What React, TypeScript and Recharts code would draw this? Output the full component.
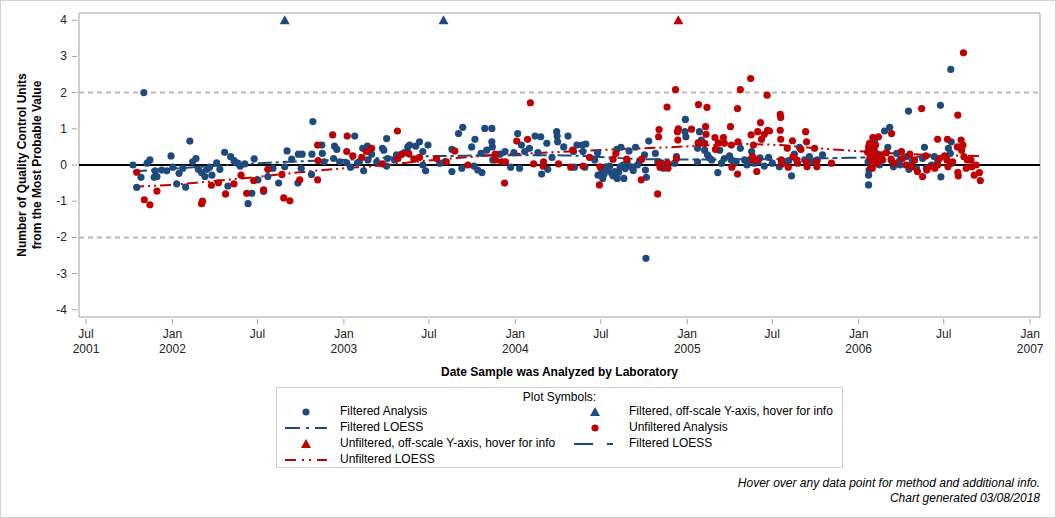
import React from "react";
import {
  ComposedChart,
  Line,
  ReferenceArea,
  ReferenceLine,
  Scatter,
  XAxis,
  YAxis,
} from "recharts";

const BLUE = "#1f4a7e";
const RED = "#c00000";
const FRAME = "#a0a0a0";
const FONT = "'Liberation Sans', Arial, Helvetica, sans-serif";

// x axis: dates (UTC), ticks every six months
const X_START = "2001-06-16";
const X_END = "2007-01-22";
const xTickDates = [
  "2001-07-01", "2002-01-01", "2002-07-01", "2003-01-01", "2003-07-01", "2004-01-01",
  "2004-07-01", "2005-01-01", "2005-07-01", "2006-01-01", "2006-07-01", "2007-01-01",
];
const MONTHS = ["Jan", "Feb", "Mar", "Apr", "May", "Jun", "Jul", "Aug", "Sep", "Oct", "Nov", "Dec"];

const yTicks = [-4, -3, -2, -1, 0, 1, 2, 3, 4];
const Y_MIN = -4.2;
const Y_MAX = 4.2;
const OFF_SCALE_Y = 4;

// Filtered analysis: [date, QC units from MPV]
const filteredAnalysis: [string, number][] = [
  ["2001-10-09", 0.0], ["2001-10-17", -0.62], ["2001-10-26", -0.34], ["2001-11-01", 2.0], ["2001-11-08", 0.05],
  ["2001-11-14", 0.14], ["2001-11-23", -0.34], ["2001-11-25", -0.16], ["2001-11-29", -0.32], ["2001-12-09", -0.14],
  ["2001-12-20", -0.16], ["2001-12-29", 0.25],
  ["2002-01-02", -0.06], ["2002-01-10", -0.52], ["2002-01-15", -0.23], ["2002-01-23", -0.09], ["2002-01-29", -0.61],
  ["2002-02-07", 0.66], ["2002-02-13", 0.09], ["2002-02-20", 0.18], ["2002-02-25", -0.12], ["2002-03-04", -0.21],
  ["2002-03-11", -0.32], ["2002-03-15", -0.12], ["2002-03-21", -0.06], ["2002-03-26", -0.28], ["2002-04-05", 0.06],
  ["2002-04-12", -0.12], ["2002-04-22", 0.35], ["2002-04-29", -0.58], ["2002-05-05", 0.23], ["2002-05-12", 0.12],
  ["2002-05-20", 0.05], ["2002-05-25", -0.03], ["2002-06-04", 0.03], ["2002-06-11", -1.07], ["2002-06-19", -0.78],
  ["2002-06-24", 0.17], ["2002-07-02", -0.41], ["2002-07-14", -0.73], ["2002-07-23", -0.32], ["2002-08-03", -0.09],
  ["2002-08-15", -0.5], ["2002-08-28", -0.05], ["2002-09-02", 0.39], ["2002-09-12", 0.16], ["2002-09-25", -0.5],
  ["2002-09-26", 0.3], ["2002-10-02", -0.09], ["2002-10-04", 0.3], ["2002-10-24", -0.26], ["2002-10-25", 0.3],
  ["2002-10-27", 1.2], ["2002-11-15", 0.55], ["2002-11-16", 0.32], ["2002-11-20", 0.09], ["2002-12-10", 0.18],
  ["2002-12-12", 0.52], ["2002-12-17", 0.43], ["2002-12-23", 0.09],
  ["2003-01-07", 0.06], ["2003-01-15", -0.06], ["2003-01-24", 0.8], ["2003-01-30", 0.06], ["2003-02-03", 0.09],
  ["2003-02-10", 0.46], ["2003-02-12", -0.16], ["2003-02-20", 0.52], ["2003-02-21", 0.14], ["2003-03-01", 0.3],
  ["2003-03-12", 0.09], ["2003-03-24", 0.46], ["2003-03-27", 0.41], ["2003-04-02", 0.73], ["2003-04-02", -0.03],
  ["2003-04-04", 0.18], ["2003-04-19", 0.14], ["2003-04-23", 0.28], ["2003-05-10", 0.34], ["2003-05-17", 0.5],
  ["2003-05-21", 0.55], ["2003-06-03", 0.52], ["2003-06-11", 0.64], ["2003-06-18", 0.37], ["2003-06-18", 0.0],
  ["2003-06-24", -0.16], ["2003-06-29", 0.55], ["2003-07-24", 0.05], ["2003-08-04", 0.09], ["2003-08-19", 0.43],
  ["2003-08-19", -0.18], ["2003-09-02", 0.87], ["2003-09-09", -0.09], ["2003-09-11", 1.04], ["2003-09-30", 0.5],
  ["2003-10-05", -0.03], ["2003-10-07", 0.71], ["2003-10-13", -0.14], ["2003-10-20", 0.32], ["2003-10-22", -0.21],
  ["2003-10-28", 1.01], ["2003-11-01", 0.41], ["2003-11-12", 1.01], ["2003-11-12", 0.64], ["2003-11-13", 0.5],
  ["2003-11-14", 0.14], ["2003-11-29", 0.3], ["2003-12-10", 0.37], ["2003-12-22", -0.06], ["2003-12-29", 0.34],
  ["2004-01-06", 0.87], ["2004-01-10", -0.09], ["2004-01-14", 0.55], ["2004-01-21", 0.37], ["2004-01-31", 0.46],
  ["2004-02-12", 0.8], ["2004-02-18", 0.34], ["2004-02-24", 0.78], ["2004-02-26", -0.25], ["2004-03-08", 0.6],
  ["2004-03-10", -0.12], ["2004-03-19", 0.21], ["2004-03-29", 0.92], ["2004-03-30", 0.8], ["2004-03-31", 0.64],
  ["2004-04-13", 0.5], ["2004-04-22", 0.8], ["2004-05-04", 0.37], ["2004-05-06", -0.06], ["2004-05-11", 0.55],
  ["2004-05-22", 0.55], ["2004-05-24", 0.37], ["2004-05-28", -0.06], ["2004-05-30", 0.58], ["2004-06-18", 0.14],
  ["2004-06-24", 0.34], ["2004-06-25", -0.28], ["2004-07-03", -0.14], ["2004-07-05", -0.37], ["2004-07-08", -0.25],
  ["2004-07-12", -0.05], ["2004-07-16", -0.14], ["2004-07-20", -0.03], ["2004-07-24", -0.23], ["2004-07-27", -0.3],
  ["2004-07-31", -0.18], ["2004-08-04", 0.43], ["2004-08-05", -0.37], ["2004-08-08", -0.2], ["2004-08-11", -0.05],
  ["2004-08-13", 0.49], ["2004-08-17", 0.0], ["2004-08-19", -0.37], ["2004-08-22", -0.1], ["2004-08-26", 0.09],
  ["2004-08-30", 0.39], ["2004-09-04", -0.05], ["2004-09-08", -0.15], ["2004-09-13", 0.49], ["2004-09-17", 0.0],
  ["2004-09-21", 0.09], ["2004-10-02", 0.28], ["2004-10-04", -0.14], ["2004-10-05", -2.58], ["2004-10-06", -0.34],
  ["2004-10-11", 0.66], ["2004-10-25", 0.32], ["2004-10-30", 0.09], ["2004-11-07", 0.06], ["2004-11-11", -0.09],
  ["2004-12-05", 0.05], ["2004-12-09", 0.23], ["2004-12-27", 0.92], ["2004-12-28", 1.26], ["2004-12-29", 0.78],
  ["2005-01-23", 0.46], ["2005-01-23", 0.09], ["2005-01-27", 0.92], ["2005-01-31", 0.69], ["2005-02-07", 0.41],
  ["2005-02-13", 0.28], ["2005-02-17", 0.2], ["2005-02-22", 0.14], ["2005-03-07", -0.21], ["2005-03-11", 0.41],
  ["2005-03-15", 0.05], ["2005-03-21", 0.18], ["2005-04-01", 0.25], ["2005-04-05", 0.14], ["2005-04-11", 0.05],
  ["2005-04-15", 0.1], ["2005-04-24", 0.46], ["2005-05-03", 0.14], ["2005-05-08", 0.0], ["2005-05-14", 0.14],
  ["2005-05-18", 0.37], ["2005-05-24", 0.05], ["2005-06-01", 0.1], ["2005-06-05", 0.2], ["2005-06-14", -0.03],
  ["2005-06-23", 0.21], ["2005-07-01", 0.05], ["2005-07-16", -0.05], ["2005-07-25", 0.1], ["2005-08-05", 0.12],
  ["2005-08-11", -0.3], ["2005-08-17", 0.3], ["2005-08-28", 0.49], ["2005-09-08", 0.14], ["2005-09-18", 0.23],
  ["2005-09-25", 0.1], ["2005-10-05", 0.14], ["2005-10-16", 0.28],
  ["2006-01-21", 0.09], ["2006-01-22", -0.55], ["2006-01-22", -0.28], ["2006-01-23", -0.14], ["2006-02-04", 0.69],
  ["2006-02-10", 0.3], ["2006-02-14", 0.0], ["2006-02-25", 0.94], ["2006-03-04", 0.49], ["2006-03-08", 1.04],
  ["2006-03-12", 0.12], ["2006-03-16", -0.05], ["2006-03-23", 0.32], ["2006-03-29", 0.12], ["2006-03-30", 0.0],
  ["2006-04-13", 0.23], ["2006-04-17", 1.49], ["2006-04-18", -0.12], ["2006-04-25", 0.1], ["2006-05-04", -0.09],
  ["2006-05-17", 0.18], ["2006-05-21", 0.49], ["2006-05-25", -0.09], ["2006-06-05", 0.0], ["2006-06-11", 0.23],
  ["2006-06-18", 0.08], ["2006-06-24", 1.65], ["2006-06-25", -0.33], ["2006-07-11", 0.46], ["2006-07-15", 0.32],
  ["2006-07-16", 2.64], ["2006-07-17", 0.64], ["2006-07-18", 0.05],
];

// Unfiltered analysis
const unfilteredAnalysis: [string, number][] = [
  ["2001-10-17", -0.2], ["2001-11-02", -0.96], ["2001-11-14", -1.1], ["2001-11-29", -0.72],
  ["2002-03-04", -1.07], ["2002-03-06", -1.0], ["2002-03-25", -0.56], ["2002-04-09", -0.49], ["2002-04-24", -0.8],
  ["2002-05-12", -0.52], ["2002-05-27", -0.28], ["2002-06-08", -0.78], ["2002-06-23", -0.43], ["2002-07-14", -0.69],
  ["2002-07-23", -0.12], ["2002-08-22", -0.26], ["2002-08-26", -0.91], ["2002-09-08", -0.99], ["2002-09-29", -0.41],
  ["2002-11-06", 0.55], ["2002-11-07", 0.12], ["2002-11-06", -0.41], ["2002-12-08", 0.83],
  ["2003-01-07", 0.37], ["2003-01-08", 0.8], ["2003-01-20", 0.25], ["2003-02-08", 0.21], ["2003-02-18", 0.37],
  ["2003-03-01", 0.46], ["2003-03-24", 0.03], ["2003-04-25", 0.94], ["2003-04-26", 0.18], ["2003-05-04", 0.3],
  ["2003-05-19", 0.32], ["2003-05-30", 0.16], ["2003-06-11", 0.21], ["2003-07-17", 0.18], ["2003-08-07", 0.09],
  ["2003-08-25", 0.39], ["2003-09-22", 0.0], ["2003-11-19", 0.3], ["2003-11-20", 0.14], ["2003-12-03", 0.09],
  ["2003-12-09", -0.5], ["2003-12-11", 0.09],
  ["2004-01-04", 0.66], ["2004-01-27", 0.71], ["2004-02-02", 1.72], ["2004-02-09", 0.03], ["2004-02-29", -0.03],
  ["2004-03-01", 0.09], ["2004-04-02", 0.03], ["2004-04-28", -0.06], ["2004-05-02", 0.41], ["2004-05-24", -0.03],
  ["2004-06-07", 0.21], ["2004-06-28", -0.55], ["2004-06-29", -0.05], ["2004-07-27", 0.16], ["2004-08-02", 0.32],
  ["2004-08-25", 0.16], ["2004-09-25", -0.41], ["2004-09-26", 0.16], ["2004-10-30", -0.8], ["2004-11-01", 0.78],
  ["2004-11-02", 0.98], ["2004-11-03", 0.05], ["2004-11-04", -0.06], ["2004-11-19", 1.6], ["2004-11-20", 0.05],
  ["2004-11-21", -0.09], ["2004-12-07", 2.08], ["2004-12-09", 0.18], ["2004-12-11", 0.92], ["2004-12-12", 0.69],
  ["2004-12-13", 1.0],
  ["2005-01-10", 0.99], ["2005-01-24", 0.61], ["2005-01-25", 1.67], ["2005-02-07", 0.6], ["2005-02-09", 1.06],
  ["2005-02-10", 0.85], ["2005-02-12", 1.59], ["2005-03-01", 0.76], ["2005-03-02", 0.43], ["2005-03-08", 0.61],
  ["2005-03-19", 0.76], ["2005-03-21", 0.6], ["2005-04-03", 1.06], ["2005-04-05", 0.55], ["2005-04-06", -0.06],
  ["2005-04-18", 1.56], ["2005-04-18", -0.25], ["2005-04-19", 0.64], ["2005-04-24", 2.08], ["2005-05-16", 2.39],
  ["2005-05-17", 0.83], ["2005-05-20", 0.23], ["2005-05-21", 0.14], ["2005-05-22", 0.55], ["2005-05-29", -0.18],
  ["2005-05-30", 0.14], ["2005-05-31", 0.92], ["2005-06-06", 1.17], ["2005-06-08", 0.71], ["2005-06-14", 0.85],
  ["2005-06-20", 1.93], ["2005-06-21", 0.96], ["2005-06-25", 0.94], ["2005-07-18", 1.4], ["2005-07-18", 0.96],
  ["2005-07-19", 1.31], ["2005-07-19", 0.71], ["2005-07-20", 0.14], ["2005-07-21", 0.03], ["2005-08-02", 0.46],
  ["2005-08-04", -0.06], ["2005-08-13", 0.67], ["2005-08-14", 0.23], ["2005-08-22", 0.14], ["2005-08-24", 0.05],
  ["2005-08-31", 0.43], ["2005-09-10", 0.92], ["2005-09-12", 0.64], ["2005-09-12", 0.09], ["2005-09-13", -0.05],
  ["2005-09-29", 0.46], ["2005-10-03", 0.09], ["2005-10-04", -0.05], ["2005-11-04", 0.05],
  ["2006-01-20", 0.35], ["2006-01-22", 0.5], ["2006-01-24", 0.6], ["2006-01-25", 0.2], ["2006-01-27", -0.05],
  ["2006-01-28", 0.46], ["2006-01-29", 0.14], ["2006-01-30", 0.28], ["2006-01-30", -0.09], ["2006-01-31", 0.76],
  ["2006-02-03", 0.41], ["2006-02-06", 0.55], ["2006-02-08", 0.05], ["2006-02-10", 0.23], ["2006-02-12", 0.78],
  ["2006-02-19", 0.28], ["2006-02-21", 0.14], ["2006-03-01", 0.34], ["2006-03-11", 0.16], ["2006-03-12", 0.87],
  ["2006-03-18", 0.05], ["2006-04-02", 0.37], ["2006-04-04", 0.18], ["2006-04-12", 0.0], ["2006-04-20", 0.3],
  ["2006-04-24", -0.05], ["2006-04-30", 0.14], ["2006-05-06", -0.18], ["2006-05-15", 1.56], ["2006-05-17", -0.32],
  ["2006-05-24", 0.25], ["2006-05-26", -0.14], ["2006-06-01", -0.05], ["2006-06-12", -0.09], ["2006-06-18", 0.0],
  ["2006-06-18", 0.71], ["2006-06-22", 0.18], ["2006-07-03", 0.25], ["2006-07-08", 0.14], ["2006-07-09", 0.71],
  ["2006-07-10", -0.05], ["2006-07-20", 0.09], ["2006-07-30", 0.5], ["2006-07-31", 1.38], ["2006-07-31", -0.2],
  ["2006-08-01", -0.3], ["2006-08-07", 0.69], ["2006-08-08", 0.41], ["2006-08-11", 0.55], ["2006-08-12", 3.1],
  ["2006-08-13", 0.23], ["2006-08-18", -0.09], ["2006-08-20", 0.14], ["2006-08-28", 0.14], ["2006-08-30", -0.05],
  ["2006-09-04", -0.28], ["2006-09-08", 0.0], ["2006-09-15", -0.21], ["2006-09-17", -0.43],
];

// off-scale results (plotted at the top of the axis)
const filteredOffScale = ["2002-08-28", "2003-08-01"];
const unfilteredOffScale = ["2004-12-13"];

// LOESS fits
const filteredLoessA: [string, number][] = [
  ["2001-10-09", -0.17], ["2001-12-15", -0.12], ["2002-03-01", -0.05], ["2002-05-03", 0.0], ["2002-07-06", 0.05],
  ["2002-09-29", 0.1], ["2003-01-13", 0.15], ["2003-04-30", 0.22], ["2003-08-14", 0.25], ["2003-11-29", 0.27],
  ["2004-03-15", 0.27], ["2004-06-07", 0.24],
];
const filteredLoessB: [string, number][] = [
  ["2004-06-07", 0.24], ["2004-08-11", 0.19], ["2004-10-13", 0.16], ["2005-01-27", 0.15], ["2005-05-14", 0.16],
  ["2005-08-28", 0.17], ["2005-12-13", 0.2], ["2006-03-30", 0.22], ["2006-07-18", 0.25],
];
const unfilteredLoess: [string, number][] = [
  ["2001-10-09", -0.6], ["2001-12-27", -0.55], ["2002-03-01", -0.48], ["2002-05-03", -0.4], ["2002-07-06", -0.32],
  ["2002-09-29", -0.2], ["2002-12-23", -0.1], ["2003-03-17", -0.02], ["2003-06-11", 0.1], ["2003-09-05", 0.2],
  ["2003-11-29", 0.28], ["2004-03-15", 0.35], ["2004-06-07", 0.4], ["2004-08-11", 0.44], ["2004-11-04", 0.48],
  ["2005-01-27", 0.53], ["2005-04-22", 0.58], ["2005-07-16", 0.55], ["2005-09-18", 0.48], ["2005-11-20", 0.42],
  ["2006-01-24", 0.36], ["2006-04-20", 0.3], ["2006-07-14", 0.27], ["2006-09-20", 0.25],
];

const DASH_FILTERED_A = "14 4 3 4";
const DASH_FILTERED_B = "15 4 5 4";
const DASH_UNFILTERED = "11 4 2 4 2 4";

const ts = (d: string) => Date.parse(d + "T00:00:00Z");
const toPoints = (rows: [string, number][]) => rows.map(([d, v]) => ({ t: ts(d), v }));
const offScalePoints = (dates: string[]) => dates.map((d) => ({ t: ts(d), v: OFF_SCALE_Y }));

const dot = (color: string) => (p: any) => <circle cx={p.cx} cy={p.cy} r={3.6} fill={color} />;
const tri = (color: string) => (p: any) => (
  <polygon points={`${p.cx},${p.cy - 5} ${p.cx - 5},${p.cy + 4} ${p.cx + 5},${p.cy + 4}`} fill={color} />
);

function XTick(props: any) {
  const { x, y, payload, index } = props;
  const d = new Date(payload.value);
  const showYear = index === 0 || d.getUTCMonth() === 0;
  return (
    <g>
      <line x1={x} x2={x} y1={y - 6} y2={y - 1} stroke={FRAME} />
      <text x={x} y={y} textAnchor="middle" fontSize={12} fontFamily={FONT} fill="#222">
        <tspan x={x} dy={13}>{MONTHS[d.getUTCMonth()]}</tspan>
        {showYear && <tspan x={x} dy={15}>{d.getUTCFullYear()}</tspan>}
      </text>
    </g>
  );
}

function YTick(props: any) {
  const { x, y, payload } = props;
  return (
    <g>
      <line x1={x + 5} x2={x + 10} y1={y} y2={y} stroke={FRAME} />
      <text x={x} y={y} dy={4} textAnchor="end" fontSize={12} fontFamily={FONT} fill="#222">
        {payload.value}
      </text>
    </g>
  );
}

function LegendMark({ kind, color, dash }: { kind: string; color: string; dash?: string }) {
  return (
    <svg width={46} height={12} style={{ position: "absolute", left: -23, top: -6 }}>
      {kind === "dot" && <circle cx={23} cy={6} r={3.6} fill={color} />}
      {kind === "tri" && <polygon points="23,1 18,10 28,10" fill={color} />}
      {kind === "line" && <line x1={2} x2={44} y1={6} y2={6} stroke={color} strokeWidth={2} strokeDasharray={dash} />}
    </svg>
  );
}

const legendItems = [
  { col: 0, row: 0, kind: "dot", color: BLUE, text: "Filtered Analysis" },
  { col: 0, row: 1, kind: "line", color: BLUE, dash: "15 6 3 6", text: "Filtered LOESS" },
  { col: 0, row: 2, kind: "tri", color: RED, text: "Unfiltered, off-scale Y-axis, hover for info" },
  { col: 0, row: 3, kind: "line", color: RED, dash: "11 6 2 5 2 6", text: "Unfiltered LOESS" },
  { col: 1, row: 0, kind: "tri", color: BLUE, text: "Filtered, off-scale Y-axis, hover for info" },
  { col: 1, row: 1, kind: "dot", color: RED, text: "Unfiltered Analysis" },
  { col: 1, row: 2, kind: "line", color: BLUE, dash: "19 14 6 40", text: "Filtered LOESS" },
];

export default function App() {
  const xDomain = [ts(X_START), ts(X_END)];
  return (
    <div style={{ position: "absolute", left: 0, top: 0, width: 1056, height: 518, background: "#fff", fontFamily: FONT, color: "#000" }}>
      <ComposedChart width={1056} height={518} margin={{ top: 13, right: 16, bottom: 161, left: 39 }}>
        <XAxis
          dataKey="t"
          type="number"
          scale="linear"
          domain={xDomain}
          allowDataOverflow
          ticks={xTickDates.map(ts)}
          interval={0}
          tick={<XTick />}
          tickLine={false}
          axisLine={false}
          tickSize={8}
          tickMargin={0}
          height={40}
          label={{
            content: (p: any) => (
              <text x={p.viewBox.x + p.viewBox.width / 2} y={p.viewBox.y + 59} textAnchor="middle" fontSize={12} fontWeight="bold" fontFamily={FONT}>
                Date Sample was Analyzed by Laboratory
              </text>
            ),
          }}
        />
        <YAxis
          dataKey="v"
          type="number"
          domain={[Y_MIN, Y_MAX]}
          allowDataOverflow
          ticks={yTicks}
          interval={0}
          tick={<YTick />}
          tickLine={false}
          axisLine={false}
          tickSize={8}
          tickMargin={4}
          width={40}
          label={{
            content: (p: any) => {
              const cy = p.viewBox.y + p.viewBox.height / 2;
              return (
                <text transform={`rotate(-90, 0, ${cy})`} x={0} y={cy} textAnchor="middle" fontSize={12} fontWeight="bold" fontFamily={FONT}>
                  <tspan x={0} y={cy + 26}>Number of Quality Control Units</tspan>
                  <tspan x={0} y={cy + 41}>from the Most Probable Value</tspan>
                </text>
              );
            },
          }}
        />
        <ReferenceLine y={2} stroke="#b8b8b8" strokeWidth={2} strokeDasharray="5 4" />
        <ReferenceLine y={-2} stroke="#b8b8b8" strokeWidth={2} strokeDasharray="5 4" />
        <ReferenceLine y={0} stroke="#000" strokeWidth={2} />
        <Scatter data={toPoints(filteredAnalysis)} dataKey="v" shape={dot(BLUE)} isAnimationActive={false} />
        <Scatter data={toPoints(unfilteredAnalysis)} dataKey="v" shape={dot(RED)} isAnimationActive={false} />
        <Line data={toPoints(filteredLoessA)} dataKey="v" type="monotone" stroke={BLUE} strokeWidth={2} strokeDasharray={DASH_FILTERED_A} dot={false} activeDot={false} isAnimationActive={false} />
        <Line data={toPoints(filteredLoessB)} dataKey="v" type="monotone" stroke={BLUE} strokeWidth={2} strokeDasharray={DASH_FILTERED_B} dot={false} activeDot={false} isAnimationActive={false} />
        <Line data={toPoints(unfilteredLoess)} dataKey="v" type="monotone" stroke={RED} strokeWidth={2} strokeDasharray={DASH_UNFILTERED} dot={false} activeDot={false} isAnimationActive={false} />
        <Scatter data={offScalePoints(filteredOffScale)} dataKey="v" shape={tri(BLUE)} isAnimationActive={false} />
        <Scatter data={offScalePoints(unfilteredOffScale)} dataKey="v" shape={tri(RED)} isAnimationActive={false} />
        <ReferenceArea x1={xDomain[0]} x2={xDomain[1]} y1={Y_MIN} y2={Y_MAX} fill="none" stroke={FRAME} strokeWidth={1} ifOverflow="visible" />
      </ComposedChart>

      <div style={{ position: "absolute", left: 276, top: 387, width: 567, height: 81, border: "1px solid #cfcfcf", boxSizing: "border-box", fontSize: 12 }}>
        <div style={{ position: "absolute", top: 2, left: 0, width: "100%", textAlign: "center", lineHeight: "15px" }}>Plot Symbols:</div>
        {legendItems.map((it, i) => (
          <div key={i} style={{ position: "absolute", left: it.col === 0 ? 29 : 318, top: 24 + it.row * 16 }}>
            <LegendMark kind={it.kind} color={it.color} dash={it.dash} />
            <div style={{ position: "absolute", left: 34, top: -8, whiteSpace: "nowrap", lineHeight: "15px" }}>{it.text}</div>
          </div>
        ))}
      </div>

      <div style={{ position: "absolute", right: 16, top: 476, textAlign: "right", fontSize: 12, fontStyle: "italic", lineHeight: "15px" }}>
        <div>Hover over any data point for method and additional info.</div>
        <div>Chart generated 03/08/2018</div>
      </div>
      <div style={{ position: "absolute", left: 0, top: 0, width: 1056, height: 518, border: "1px solid #d4d4d4", boxSizing: "border-box", pointerEvents: "none" }} />
    </div>
  );
}
